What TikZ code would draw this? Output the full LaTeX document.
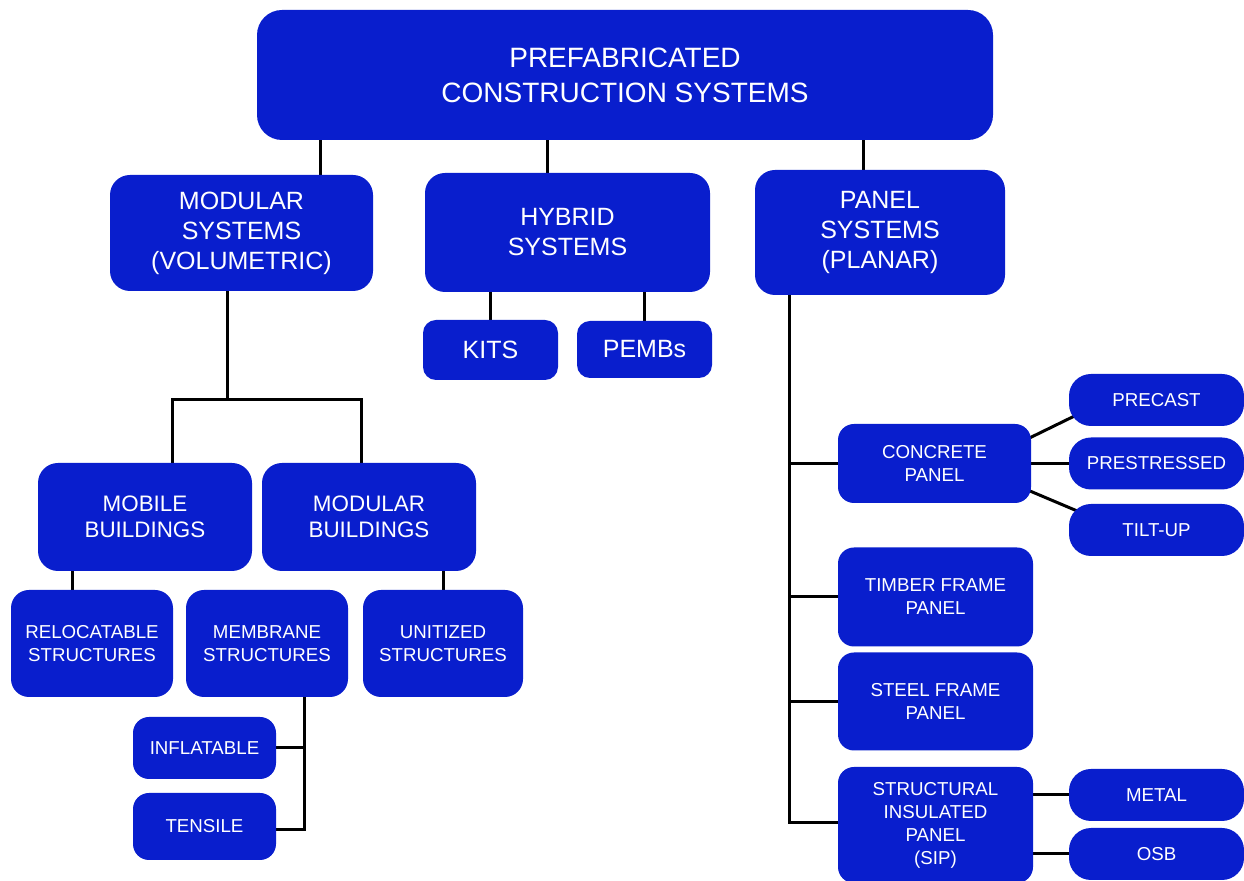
\documentclass[tikz,border=0pt]{standalone}
\usepackage{fontspec}
\setmainfont{Liberation Sans}
\usetikzlibrary{calc,backgrounds}
\definecolor{boxblue}{RGB}{9,30,205}

\tikzset{
  box/.style={fill=boxblue, text=white, align=center, inner sep=0pt, rounded corners=10pt},
  topbox/.style={box, rounded corners=12.5pt, font=\fontsize{14}{17.5}\selectfont},
  midbox/.style={box, font=\fontsize{12.5}{15}\selectfont},
  bldbox/.style={box, font=\fontsize{11.2}{13}\selectfont},
  smallbox/.style={box, rounded corners=8pt, font=\fontsize{9.35}{11.5}\selectfont},
  pillbox/.style={smallbox, rounded corners=11pt, minimum width=87.5pt, minimum height=26pt},
  link/.style={line width=1.5pt}
}

\begin{document}
\begin{tikzpicture}[x=0.5pt,y=-0.5pt]
  \useasboundingbox (0,0) rectangle (1244,881);

  \node [topbox, minimum width=368pt, minimum height=65pt] (top) at (625,75) {PREFABRICATED\\CONSTRUCTION SYSTEMS};

  \node [midbox, minimum width=131.5pt, minimum height=58pt] (modsys) at (241.5,233) {MODULAR\\SYSTEMS\\(VOLUMETRIC)};
  \node [midbox, minimum width=142.5pt, minimum height=59.5pt] (hybrid) at (567.5,232.5) {HYBRID\\SYSTEMS};
  \node [midbox, minimum width=125pt, minimum height=62.5pt] (panel) at (880,232.5) {PANEL\\SYSTEMS\\(PLANAR)};

  \node [midbox, rounded corners=6.5pt, minimum width=67.5pt, minimum height=30pt] (kits) at (490.5,350) {KITS};
  \node [midbox, rounded corners=6.5pt, minimum width=67.5pt, minimum height=28.5pt] (pembs) at (644.5,349.5) {PEMBs};

  \node [bldbox, minimum width=107pt, minimum height=54pt] (mobile) at (145,517) {MOBILE\\BUILDINGS};
  \node [bldbox, minimum width=107pt, minimum height=54pt] (modbld) at (369,517) {MODULAR\\BUILDINGS};

  \node [smallbox, rounded corners=9pt, minimum width=81pt, minimum height=53.5pt] (reloc) at (92,643.5) {RELOCATABLE\\STRUCTURES};
  \node [smallbox, rounded corners=9pt, minimum width=81pt, minimum height=53.5pt] (membrane) at (267,643.5) {MEMBRANE\\STRUCTURES};
  \node [smallbox, rounded corners=9pt, minimum width=80pt, minimum height=53.5pt] (unitized) at (443,643.5) {UNITIZED\\STRUCTURES};

  \node [smallbox, minimum width=71.5pt, minimum height=31pt] (inflatable) at (204.5,748) {INFLATABLE};
  \node [smallbox, minimum width=71.5pt, minimum height=33.5pt] (tensile) at (204.5,826.5) {TENSILE};

  \node [smallbox, minimum width=96.5pt, minimum height=39.5pt] (concrete) at (934.5,463.5) {CONCRETE\\PANEL};
  \node [smallbox, minimum width=97.5pt, minimum height=49.5pt] (timber) at (935.5,597) {TIMBER FRAME\\PANEL};
  \node [smallbox, minimum width=97.5pt, minimum height=49pt] (steel) at (935.5,701.5) {STEEL FRAME\\PANEL};
  \node [smallbox, minimum width=97.5pt, minimum height=58pt] (sip) at (935.5,825) {STRUCTURAL\\INSULATED\\PANEL\\(SIP)};

  \node [pillbox] (precast) at (1156.5,400) {PRECAST};
  \node [pillbox] (prestressed) at (1156.5,463.5) {PRESTRESSED};
  \node [pillbox] (tiltup) at (1156.5,530) {TILT-UP};
  \node [pillbox] (metal) at (1156.5,795) {METAL};
  \node [pillbox] (osb) at (1156.5,854) {OSB};

  \begin{scope}[on background layer]
    \draw [link] (320,0 |- top.south) -- (320,0 |- modsys.north);
    \draw [link] (547,0 |- top.south) -- (547,0 |- hybrid.north);
    \draw [link] (863,0 |- top.south) -- (863,0 |- panel.north);

    \draw [link] (490,0 |- hybrid.south) -- (490,0 |- kits.north);
    \draw [link] (644,0 |- hybrid.south) -- (644,0 |- pembs.north);

    \draw [link] (227,0 |- modsys.south) -- (227,400);
    \draw [link] (172,0 |- mobile.north) -- (172,400) -- (361,400) -- (361,0 |- modbld.north);
    \draw [link] (72,0 |- mobile.south) -- (72,0 |- reloc.north);
    \draw [link] (443,0 |- modbld.south) -- (443,0 |- unitized.north);

    \draw [link] (304,0 |- membrane.south) -- (304,830) -- (tensile.east |- 0,830);
    \draw [link] (inflatable.east) -- (304,0 |- inflatable.east);

    \draw [link] (789,0 |- panel.south) -- (789,0 |- 0,823) -- (sip.west |- 0,823);
    \draw [link] (concrete.west) -- (789,0 |- concrete.west);
    \draw [link] (timber.west) -- (789,0 |- timber.west);
    \draw [link] (steel.west) -- (789,0 |- steel.west);

    \draw [link] ($(concrete.east)+(-5,-24)$) -- ($(precast.west)+(10,14)$);
    \draw [link] (concrete.east) -- (prestressed.west);
    \draw [link] ($(concrete.east)+(-5,26)$) -- ($(tiltup.west)+(11,-18)$);

    \draw [link] (sip.east |- metal.west) -- (metal.west);
    \draw [link] (sip.east |- osb.west) -- (osb.west);
  \end{scope}
\end{tikzpicture}
\end{document}
